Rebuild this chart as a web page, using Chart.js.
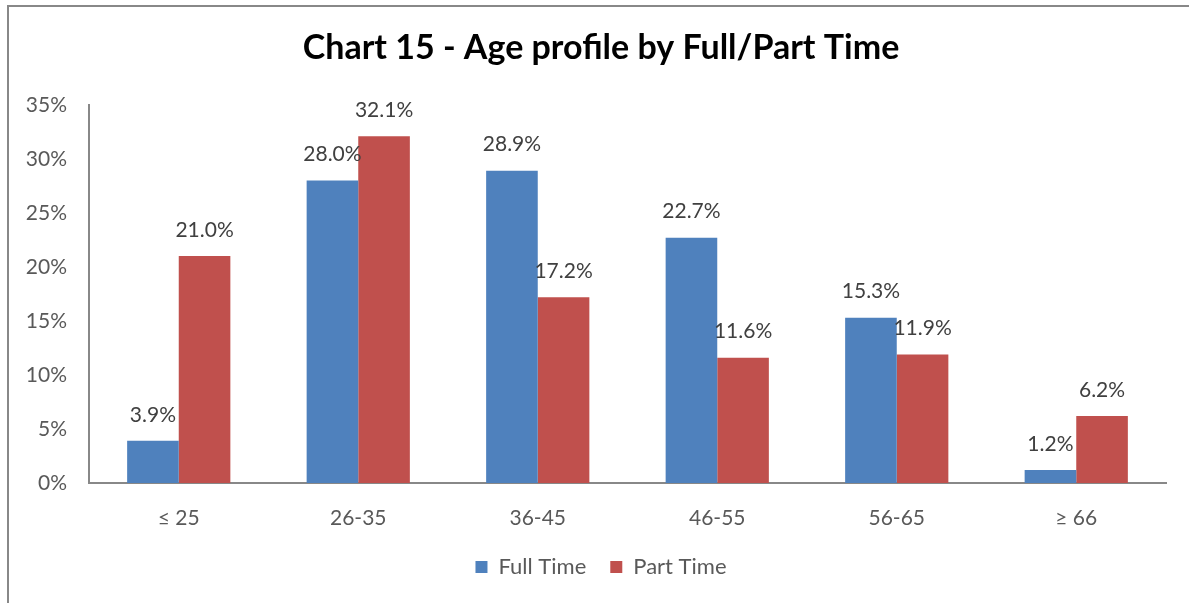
<!DOCTYPE html>
<html>
<head>
<meta charset="utf-8">
<script src="https://cdn.jsdelivr.net/npm/chart.js@4.4.0/dist/chart.umd.min.js"></script>
<style>
  html, body { margin: 0; padding: 0; background: #fff; }
  #frame {
    position: absolute; left: 7px; top: 5px; width: 1200px; height: 620px;
    border-left: 2px solid #888; border-top: 2px solid #888;
  }
  #wrap { position: absolute; left: 0; top: 0; width: 1189px; height: 603px; }
</style>
</head>
<body>
<div id="frame"></div>
<div id="wrap"><canvas id="ageChart"></canvas></div>
<script>
const ageGroups = ['\u2264 25', '26-35', '36-45', '46-55', '56-65', '\u2265 66'];
const fullTime = [3.9, 28.0, 28.9, 22.7, 15.3, 1.2];
const partTime = [21.0, 32.1, 17.2, 11.6, 11.9, 6.2];
const yTicks = [0, 5, 10, 15, 20, 25, 30, 35];

const fontFamily = 'Lato, "Open Sans", sans-serif';

// draws the value above each bar
const barLabels = {
    id: 'barLabels',
    afterDatasetsDraw(chart) {
        const ctx = chart.ctx;
        ctx.save();
        ctx.font = '21px ' + fontFamily;
        ctx.fillStyle = '#404040';
        ctx.textAlign = 'center';
        ctx.textBaseline = 'middle';
        chart.data.datasets.forEach((ds, i) => {
            chart.getDatasetMeta(i).data.forEach((bar, j) => {
                ctx.fillText(ds.data[j].toFixed(1) + '%', bar.x, bar.y - 26);
            });
        });
        ctx.restore();
    }
};

// let the y tick labels spill into the left padding (title/legend are centred with it)
const widenYAxis = {
    id: 'widenYAxis',
    afterLayout(chart) { chart.scales.y.left = 0; }
};

const ctx = document.getElementById('ageChart').getContext('2d');
new Chart(ctx, {
    type: 'bar',
    data: {
        labels: ageGroups,
        datasets: [{
            label: 'Full Time',
            data: fullTime,
            backgroundColor: '#4F81BD',
            barPercentage: 1,
            categoryPercentage: 0.575
        }, {
            label: 'Part Time',
            data: partTime,
            backgroundColor: '#C0504D',
            barPercentage: 1,
            categoryPercentage: 0.575
        }]
    },
    plugins: [barLabels, widenYAxis],
    options: {
        responsive: true,
        maintainAspectRatio: false,
        animation: false,
        layout: { padding: { left: 36, right: 23, top: 0, bottom: 15 } },
        plugins: {
            tooltip: { enabled: false },
            title: {
                display: true,
                text: 'Chart 15 - Age profile by Full/Part Time',
                color: '#000',
                font: { family: fontFamily, size: 34, weight: 'bold' },
                padding: { top: 28, bottom: 36 }
            },
            legend: {
                position: 'bottom',
                labels: {
                    color: '#595959',
                    font: { family: fontFamily, size: 22 },
                    boxWidth: 12,
                    boxHeight: 12,
                    padding: 24
                }
            }
        },
        scales: {
            x: {
                grid: { display: false, drawTicks: false },
                border: { color: '#888', width: 2 },
                ticks: { color: '#595959', font: { family: fontFamily, size: 21 }, padding: 23 },
                afterFit(scale) { scale.height = 49; }
            },
            y: {
                min: 0,
                max: 35,
                grid: { display: false, drawTicks: false },
                border: { color: '#888', width: 2 },
                afterBuildTicks(scale) { scale.ticks = yTicks.map(v => ({ value: v })); },
                ticks: {
                    color: '#595959',
                    font: { family: fontFamily, size: 21 },
                    padding: 22,
                    callback: v => v + '%'
                },
                afterFit(scale) { scale.width = 89 - 36; }
            }
        }
    }
});
</script>
</body>
</html>
